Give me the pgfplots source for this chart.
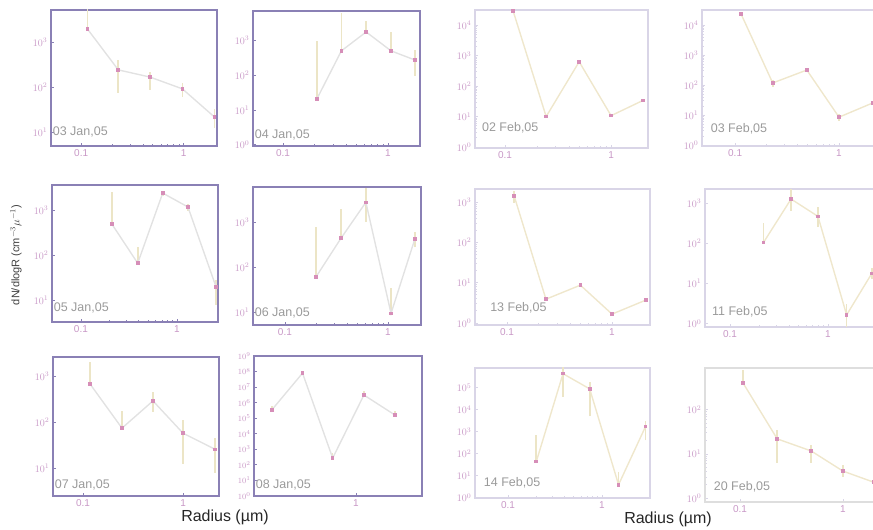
\documentclass[border=0pt]{standalone}
\usepackage{fontspec}
\setmainfont{Liberation Sans}
\usepackage{pgfplots}
\pgfplotsset{compat=1.18}
\definecolor{frameL}{HTML}{8A80B5}
\definecolor{frameR}{HTML}{D9D5E7}
\definecolor{frameG}{HTML}{DEDEDE}
\definecolor{tickc}{HTML}{C898C6}
\definecolor{lineL}{HTML}{E2E2E2}
\definecolor{lineR}{HTML}{EFE7CC}
\definecolor{markc}{HTML}{D68EB8}
\definecolor{errc}{HTML}{ECE5C6}
\definecolor{labc}{HTML}{9A9A9A}
\pgfplotsset{
 pnlbase/.style={xtick={0.1,1}, xticklabels={0.1,1},
   tick pos=left, tick align=inside, unbounded coords=jump,
   ticklabel style={font=\fontsize{10}{11}\selectfont, text=tickc},
   major tick length=3pt, minor tick length=1.5pt, clip=true},
 pnlL/.style={pnlbase, axis line style={draw=frameL, line width=2.5pt}, tick style={draw=frameL, line width=0.8pt}},
 pnlR/.style={pnlbase, axis line style={draw=frameR, line width=2pt}, tick style={draw=frameR, line width=0.8pt}},
 serbase/.style={line width=1.4pt, mark=square*, mark size=1.1pt, mark options={draw=markc, fill=markc, solid}},
 serL/.style={serbase, color=lineL},
 serR/.style={serbase, color=lineR},
 eb/.style={draw=errc, line width=1.6pt, no markers, forget plot},
}
\tikzset{plab/.style={anchor=west, font=\fontsize{12.5}{14}\selectfont, text=labc, inner sep=0pt}}
\begin{document}
\begin{tikzpicture}
\useasboundingbox (0,0) rectangle (873pt,530pt);
% ---------- row 1
\begin{axis}[scale only axis, xmode=log, ymode=log, pnlL, at={(51pt,384pt)}, width=166pt, height=136pt, xmin=0.0508, xmax=2.11, ymin=4.9, ymax=5130, ytick={10,100,1000}]
\addplot[eb] coordinates {(0.115,1950) (0.115,7950) (0.115,nan) (0.23,74) (0.23,398) (0.23,nan) (0.47,85) (0.47,214) (0.47,nan) (0.97,60) (0.97,123) (0.97,nan) (2.0,12.4) (2.0,32.4)};
\addplot[serL] coordinates {(0.115,1950) (0.23,240) (0.47,166) (0.97,91) (2.0,21.4)};
\node[plab] at (rel axis cs:0.01,0.1) {03 Jan,05};
\end{axis}
\begin{axis}[scale only axis, xmode=log, ymode=log, pnlL, at={(253pt,384pt)}, width=167pt, height=135pt, xmin=0.0518, xmax=2.02, ymin=0.93, ymax=6761, ytick={1,10,100,1000}]
\addplot[eb] coordinates {(0.21,20.4) (0.21,933) (0.21,nan) (0.36,490) (0.36,5890) (0.36,nan) (0.62,1700) (0.62,3470) (0.62,nan) (1.07,490) (1.07,1700) (1.07,nan) (1.8,93) (1.8,513)};
\addplot[serL] coordinates {(0.21,20.4) (0.36,490) (0.62,1700) (1.07,490) (1.8,269)};
\node[plab] at (rel axis cs:0.01,0.08) {04 Jan,05};
\end{axis}
\begin{axis}[scale only axis, xmode=log, ymode=log, pnlR, at={(475pt,382pt)}, width=173pt, height=138pt, xmin=0.052, xmax=2.23, ymin=0.93, ymax=31623, ytick={1,10,100,1000,10000}]
\addplot[serR] coordinates {(0.119,29500) (0.244,10) (0.5,631) (1.0,10.7) (2.0,33.9)};
\node[plab] at (rel axis cs:0.04,0.145) {02 Feb,05};
\end{axis}
\begin{axis}[scale only axis, xmode=log, ymode=log, pnlR, at={(702pt,384pt)}, width=173pt, height=136pt, xmin=0.048, xmax=2.22, ymin=0.93, ymax=31623, ytick={1,10,100,1000,10000}]
\addplot[eb] coordinates {(0.114,20400) (0.114,26400) (0.114,nan) (0.23,87) (0.23,147) (0.23,nan) (1.0,6.5) (1.0,10.5)};
\addplot[serR] coordinates {(0.114,23400) (0.23,117) (0.49,316) (1.0,8.5) (2.1,25.1)};
\node[plab] at (rel axis cs:0.05,0.13) {03 Feb,05};
\end{axis}
% ---------- row 2
\begin{axis}[scale only axis, xmode=log, ymode=log, pnlL, at={(52pt,208pt)}, width=166pt, height=137pt, xmin=0.05, xmax=2.67, ymin=3.24, ymax=3631, ytick={10,100,1000}]
\addplot[eb] coordinates {(0.21,490) (0.21,2510) (0.21,nan) (0.39,66) (0.39,151) (0.39,nan) (0.71,2100) (0.71,2700) (0.71,nan) (1.3,975) (1.3,1375) (1.3,nan) (2.55,7.8) (2.55,27.5)};
\addplot[serL] coordinates {(0.21,490) (0.39,66) (0.71,2400) (1.3,1175) (2.55,19.5)};
\node[plab] at (rel axis cs:0.01,0.10) {05 Jan,05};
\end{axis}
\begin{axis}[scale only axis, xmode=log, ymode=log, pnlL, at={(253pt,205pt)}, width=168pt, height=138pt, xmin=0.049, xmax=2.09, ymin=5.13, ymax=6026, ytick={10,100,1000}]
\addplot[eb] coordinates {(0.2,60) (0.2,776) (0.2,nan) (0.35,437) (0.35,1937) (0.35,nan) (0.61,1000) (0.61,5750) (0.61,nan) (1.07,9.3) (1.07,34) (1.07,nan) (1.82,275) (1.82,603)};
\addplot[serL] coordinates {(0.2,60) (0.35,437) (0.61,2750) (1.07,9.3) (1.82,417)};
\node[plab] at (rel axis cs:0.01,0.09) {06 Jan,05};
\end{axis}
\begin{axis}[scale only axis, xmode=log, ymode=log, pnlR, at={(475pt,205pt)}, width=175pt, height=136pt, xmin=0.0496, xmax=2.3, ymin=0.89, ymax=2138, ytick={1,10,100,1000}]
\addplot[eb] coordinates {(0.117,975) (0.117,1905)};
\addplot[serR] coordinates {(0.117,1445) (0.235,3.9) (0.5,8.7) (1.0,1.66) (2.1,3.7)};
\node[plab] at (rel axis cs:0.086,0.125) {13 Feb,05};
\end{axis}
\begin{axis}[scale only axis, xmode=log, ymode=log, pnlR, at={(705pt,203pt)}, width=173pt, height=138pt, xmin=0.0556, xmax=3.24, ymin=0.83, ymax=2239, ytick={1,10,100,1000}]
\addplot[eb] coordinates {(0.22,105) (0.22,316) (0.22,nan) (0.42,630) (0.42,2240) (0.42,nan) (0.79,251) (0.79,794) (0.79,nan) (1.55,0.71) (1.55,3.16) (1.55,nan) (2.8,12.8) (2.8,24.8)};
\addplot[serR] coordinates {(0.22,105) (0.42,1260) (0.79,468) (1.55,1.66) (2.8,17.8)};
\node[plab] at (rel axis cs:0.04,0.11) {11 Feb,05};
\end{axis}
% ---------- row 3
\begin{axis}[scale only axis, xmode=log, ymode=log, pnlL, at={(53pt,34pt)}, width=166pt, height=139pt, xmin=0.05, xmax=2.29, ymin=2.51, ymax=2570, ytick={10,100,1000}]
\addplot[eb] coordinates {(0.117,676) (0.117,1996) (0.117,nan) (0.245,74) (0.245,174) (0.245,nan) (0.5,166) (0.5,447) (0.5,nan) (1.0,12.5) (1.0,109.5) (1.0,nan) (2.1,8.1) (2.1,44.7)};
\addplot[serL] coordinates {(0.117,676) (0.245,74) (0.5,288) (1.0,57.5) (2.1,25.7)};
\node[plab] at (rel axis cs:0.01,0.08) {07 Jan,05};
\end{axis}
\begin{axis}[scale only axis, xmode=log, ymode=log, pnlL, at={(254pt,34pt)}, width=168pt, height=140pt, xmin=0.107, xmax=4.25, ymin=1, ymax=1e9, xtick={1}, xticklabels={1}, ytick={1,10,100,1e3,1e4,1e5,1e6,1e7,1e8,1e9}, yticklabel style={font=\fontsize{8.5}{9}\selectfont}]
\addplot[eb] coordinates {(0.158,3.4e5) (0.158,6.4e5) (0.158,nan) (0.6,275) (0.6,575) (0.6,nan) (1.19,3.1e6) (1.19,5.6e6) (1.19,nan) (2.35,1.6e5) (2.35,3.1e5)};
\addplot[serL] coordinates {(0.158,3.4e5) (0.31,7.9e7) (0.6,275) (1.19,3.1e6) (2.35,1.6e5)};
\node[plab] at (rel axis cs:0.01,0.08) {08 Jan,05};
\end{axis}
\begin{axis}[scale only axis, xmode=log, ymode=log, pnlR, at={(475pt,32pt)}, width=175pt, height=130pt, xmin=0.0446, xmax=3.24, ymin=0.97, ymax=7.94e5, ytick={1,10,100,1e3,1e4,1e5}]
\addplot[eb] coordinates {(0.2,43.6) (0.2,724) (0.2,nan) (0.385,4e4) (0.385,8.87e5) (0.385,nan) (0.74,5000) (0.74,1.86e5) (0.74,nan) (1.5,3.16) (1.5,14.9) (1.5,nan) (2.9,400) (2.9,3160)};
\addplot[serR] coordinates {(0.2,43.6) (0.385,4.37e5) (0.74,8.9e4) (1.5,3.9) (2.9,1700)};
\node[plab] at (rel axis cs:0.05,0.12) {14 Feb,05};
\end{axis}
\begin{axis}[scale only axis, xmode=log, ymode=log, pnlR, axis line style={draw=frameG, line width=2pt}, at={(705pt,28pt)}, width=173pt, height=134pt, xmin=0.0457, xmax=2.19, ymin=0.81, ymax=891, ytick={1,10,100}]
\addplot[eb] coordinates {(0.107,407) (0.107,794) (0.107,nan) (0.23,6.3) (0.23,35.5) (0.23,nan) (0.49,6.3) (0.49,15.8) (0.49,nan) (1.0,3.0) (1.0,5.57)};
\addplot[serR] coordinates {(0.107,407) (0.23,21.9) (0.49,11.7) (1.0,4.07) (1.98,2.29)};
\node[plab] at (rel axis cs:0.05,0.11) {20 Feb,05};
\end{axis}
% ---------- labels
\node[rotate=90, font=\fontsize{11}{12}\selectfont, text=black!75] at (16pt,275pt) {dN/dlogR (cm$^{-3}\mu^{-1}$)};
\node[font=\fontsize{16}{18}\selectfont, text=black!85] at (225pt,13pt) {Radius (µm)};
\node[font=\fontsize{16}{18}\selectfont, text=black!85] at (668pt,11pt) {Radius (µm)};
\end{tikzpicture}
\end{document}
